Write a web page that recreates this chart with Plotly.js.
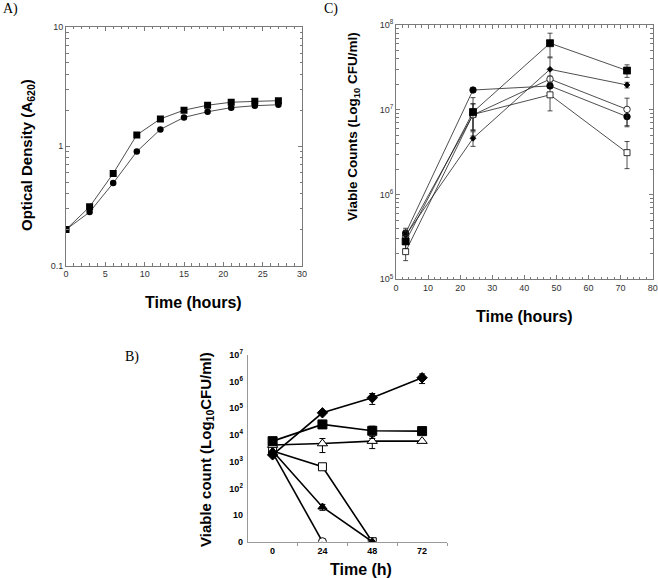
<!DOCTYPE html>
<html>
<head>
<meta charset="utf-8">
<script src="https://cdn.plot.ly/plotly-3.0.1.min.js"></script>
<style>html,body{margin:0;padding:0;background:#fff;}#chart{width:658px;height:578px;}</style>
</head>
<body>
<div id="chart"></div>
<script>
// ---------- Panel A: optical density ----------
const timeA = [0, 3, 6, 9, 12, 15, 18, 21, 24, 27];
const odSquare = [0.20, 0.31, 0.59, 1.24, 1.69, 2.00, 2.20, 2.33, 2.37, 2.40];
const odCircle = [0.20, 0.28, 0.49, 0.90, 1.38, 1.74, 1.94, 2.10, 2.18, 2.22];

// ---------- Panel C: viable counts ----------
const timeC = [3, 24, 48, 72];
const cFilledSquare = [2.8e5, 9.4e6, 6.1e7, 2.9e7];
const cFilledSquareErr = [5e4, 4.5e6, 1.9e7, 4.9e6];
const cDiamond = [3.3e5, 4.6e6, 3.0e7, 1.96e7];
const cDiamondErr = [5e4, 0.9e6, 1.1e7, 1.5e6];
const cOpenCircle = [3.2e5, 8.7e6, 2.3e7, 1.01e7];
const cOpenCircleErr = [5e4, 3e6, 2e6, 3.6e6];
const cFilledCircle = [3.5e5, 1.71e7, 1.91e7, 8.3e6];
const cFilledCircleErr = [5e4, 1e6, 1e6, 2e6];
const cOpenSquare = [2.12e5, 8.8e6, 1.5e7, 3.12e6];
const cOpenSquareErr = [4.6e4, 3e6, 5.3e6, 1.1e6];

// ---------- Panel B: viable count ----------
const timeB = [0, 24, 48, 72];
const bDiamond = [1.8e3, 6.8e4, 2.5e5, 1.4e6];
const bDiamondErr = [0, 6e3, 1.1e5, 5.5e5];
const bFilledSquare = [5.9e3, 2.5e4, 1.44e4, 1.4e4];
const bFilledSquareErr = [0, 3e3, 7e3, 2e3];
const bOpenTriangle = [4.2e3, 4.8e3, 5.9e3, 5.9e3];
const bOpenTriangleErr = [0, 2.6e3, 2.8e3, 0];
const bOpenSquare = [2.5e3, 645, 0];
const bFilledTriangle = [2.5e3, 20, 0];
const bFilledTriangleErr = [0, 5, 0];
const bOpenCircle = [2.2e3, 0];

const bTickVals = [1, 10, 100, 1e3, 1e4, 1e5, 1e6, 1e7];
const bTickText = ['0', '10', '10<sup>2</sup>', '10<sup>3</sup>', '10<sup>4</sup>', '10<sup>5</sup>', '10<sup>6</sup>', '10<sup>7</sup>'];
const cTickVals = [1e5, 1e6, 1e7, 1e8];
const cTickText = ['10<sup>5</sup>', '10<sup>6</sup>', '10<sup>7</sup>', '10<sup>8</sup>'];

// zero counts are drawn on the "0" tick (10^0)
const z = arr => arr.map(v => v === 0 ? 1 : v);

const W = 658, H = 578;
const px = x => x / W;
const py = y => 1 - y / H;

function logMinor(lo, hi) {
  const out = [];
  for (let d = lo; d < hi; d++) for (let k = 2; k <= 9; k++) out.push(k * Math.pow(10, d));
  return out;
}
function linMinor(a, b, step) {
  const out = [];
  for (let v = a; v <= b + 1e-9; v += step) out.push(v);
  return out;
}

const lineThin = {color: '#222', width: 0.8};
const traces = [];

// Panel A
traces.push({x: timeA, y: odCircle, xaxis: 'x', yaxis: 'y', mode: 'lines+markers', type: 'scatter',
  line: lineThin, marker: {symbol: 'circle', size: 6.5, color: '#000'}});
traces.push({x: timeA, y: odSquare, xaxis: 'x', yaxis: 'y', mode: 'lines+markers', type: 'scatter',
  line: lineThin, marker: {symbol: 'square', size: 7, color: '#000'}});

// Panel C
function cTrace(y, err, symbol, filled, size) {
  return {x: timeC, y: y, xaxis: 'x2', yaxis: 'y2', mode: 'lines+markers', type: 'scatter',
    line: lineThin,
    error_y: {type: 'data', array: err, visible: true, color: '#222', thickness: 0.8, width: 2.5},
    marker: {symbol: symbol, size: size, color: filled ? '#000' : '#fff', line: {color: '#000', width: 0.8}}};
}
traces.push(cTrace(cOpenSquare, cOpenSquareErr, 'square', false, 6));
traces.push(cTrace(cFilledCircle, cFilledCircleErr, 'circle', true, 6.5));
traces.push(cTrace(cOpenCircle, cOpenCircleErr, 'circle', false, 6.5));
traces.push(cTrace(cDiamond, cDiamondErr, 'diamond', true, 4.5));
traces.push(cTrace(cFilledSquare, cFilledSquareErr, 'square', true, 7));

// Panel B
function bTrace(x, y, err, symbol, filled, size) {
  const t = {x: x, y: z(y), xaxis: 'x3', yaxis: 'y3', mode: 'lines+markers', type: 'scatter',
    line: {color: '#000', width: 1.6},
    marker: {symbol: symbol, size: size, color: filled ? '#000' : '#fff', line: {color: '#000', width: 1}}};
  if (err) t.error_y = {type: 'data', array: err, visible: true, color: '#000', thickness: 1, width: 3};
  return t;
}
traces.push(bTrace(timeB.slice(0, 2), bOpenCircle, null, 'circle', false, 8));
traces.push(bTrace(timeB.slice(0, 3), bOpenSquare, null, 'square', false, 8));
traces.push(bTrace(timeB.slice(0, 3), bFilledTriangle, bFilledTriangleErr, 'triangle-up', true, 8));
traces.push(bTrace(timeB, bOpenTriangle, bOpenTriangleErr, 'triangle-up', false, 9));
traces.push(bTrace(timeB, bFilledSquare, bFilledSquareErr, 'square', true, 9));
traces.push(bTrace(timeB, bDiamond, bDiamondErr, 'diamond', true, 8));

const boxAxis = {
  showline: true, linecolor: '#7a7a7a', linewidth: 1, mirror: 'ticks',
  ticks: 'inside', ticklen: 4, tickwidth: 1, tickcolor: '#7a7a7a',
  showgrid: false, zeroline: false,
  tickfont: {family: 'Liberation Sans, Arial, sans-serif', size: 9, color: '#333'}
};
const minorLin = (a, b, s) => ({tickmode: 'array', tickvals: linMinor(a, b, s), ticks: 'inside', ticklen: 2.5, tickcolor: '#7a7a7a', showgrid: false});
const minorLog = (lo, hi) => ({tickmode: 'array', tickvals: logMinor(lo, hi), ticks: 'inside', ticklen: 2.5, tickcolor: '#7a7a7a', showgrid: false});

const layout = {
  width: W, height: H,
  margin: {l: 0, r: 0, t: 0, b: 0},
  paper_bgcolor: '#fff', plot_bgcolor: '#fff',
  showlegend: false,
  font: {family: 'Liberation Sans, Arial, sans-serif', color: '#000'},
  xaxis: Object.assign({}, boxAxis, {domain: [px(66), px(302)], anchor: 'y', range: [0, 30],
    tickmode: 'array', tickvals: [0, 5, 10, 15, 20, 25, 30], minor: minorLin(1, 29, 1)}),
  yaxis: Object.assign({}, boxAxis, {domain: [py(265.5), py(26.7)], anchor: 'x', type: 'log', range: [-1, 1],
    tickmode: 'array', tickvals: [0.1, 1, 10], ticktext: ['0.1', '1', '10'], minor: minorLog(-1, 1)}),
  xaxis2: Object.assign({}, boxAxis, {domain: [px(396), px(652.7)], anchor: 'y2', range: [0, 80],
    tickmode: 'array', tickvals: [0, 10, 20, 30, 40, 50, 60, 70, 80], minor: minorLin(2, 78, 2)}),
  yaxis2: Object.assign({}, boxAxis, {domain: [py(279.3), py(25)], anchor: 'x2', type: 'log', range: [5, 8],
    tickmode: 'array', tickvals: cTickVals, ticktext: cTickText, minor: minorLog(5, 8)}),
  xaxis3: {domain: [px(247.7), px(447)], anchor: 'y3', range: [-12, 84],
    showline: true, linecolor: '#999', linewidth: 1, showgrid: false, zeroline: false,
    tickmode: 'array', tickvals: timeB, ticktext: timeB.map(String), ticks: '',
    tickfont: {family: 'Liberation Sans, Arial, sans-serif', size: 9, color: '#000', weight: 'bold'},
    minor: {tickmode: 'array', tickvals: [12, 36, 60, 84], ticks: 'outside', ticklen: 3, tickcolor: '#999', showgrid: false}},
  yaxis3: {domain: [py(541.7), py(355)], anchor: 'x3', type: 'log', range: [0, 7],
    showline: true, linecolor: '#999', linewidth: 1, showgrid: false, zeroline: false,
    tickmode: 'array', tickvals: bTickVals, ticktext: bTickText, ticks: '', ticklabelstandoff: 2,
    tickfont: {family: 'Liberation Sans, Arial, sans-serif', size: 9, color: '#000', weight: 'bold'}},
  annotations: [
    {text: 'A)', x: px(1), y: py(9), xanchor: 'left', yanchor: 'middle', font: {family: 'Liberation Serif, Times New Roman, serif', size: 14}},
    {text: 'C)', x: px(322), y: py(9), xanchor: 'left', yanchor: 'middle', font: {family: 'Liberation Serif, Times New Roman, serif', size: 14}},
    {text: 'B)', x: px(123), y: py(357), xanchor: 'left', yanchor: 'middle', font: {family: 'Liberation Serif, Times New Roman, serif', size: 14}},
    {text: 'Time (hours)', x: px(193), y: py(302), xanchor: 'center', yanchor: 'middle', font: {size: 16, weight: 'bold'}},
    {text: 'Optical Density (A<sub>620</sub>)', x: px(27), y: py(155), textangle: -90, xanchor: 'center', yanchor: 'middle', font: {size: 15, weight: 'bold'}},
    {text: 'Time (hours)', x: px(524), y: py(316), xanchor: 'center', yanchor: 'middle', font: {size: 16, weight: 'bold'}},
    {text: 'Viable Counts (Log<sub>10</sub> CFU/ml)', x: px(353), y: py(127), textangle: -90, xanchor: 'center', yanchor: 'middle', font: {size: 13.5, weight: 'bold'}},
    {text: 'Time (h)', x: px(361), y: py(569), xanchor: 'center', yanchor: 'middle', font: {size: 16, weight: 'bold'}},
    {text: 'Viable count (Log<sub>10</sub>CFU/ml)', x: px(206), y: py(450), textangle: -90, xanchor: 'center', yanchor: 'middle', font: {size: 15, weight: 'bold'}}
  ].map(a => Object.assign({xref: 'paper', yref: 'paper', showarrow: false}, a))
};

Plotly.newPlot('chart', traces, layout, {staticPlot: true, displayModeBar: false});
</script>
</body>
</html>
